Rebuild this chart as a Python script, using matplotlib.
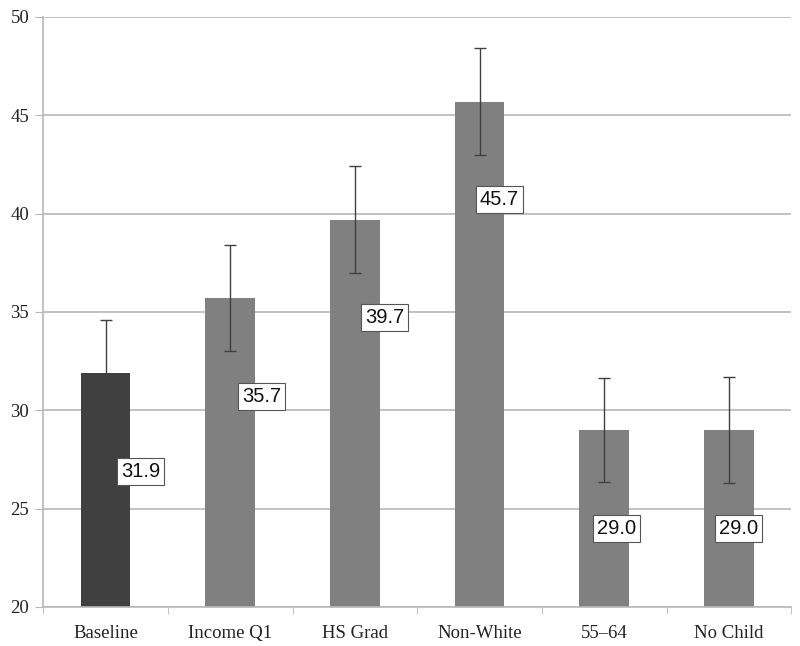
import matplotlib.pyplot as plt
import numpy as np

categories = ["Baseline", "Income Q1", "HS Grad", "Non-White", "55\u201364", "No Child"]
values = [31.9, 35.7, 39.7, 45.7, 29.0, 29.0]
errors = [2.7, 2.7, 2.7, 2.7, 2.65, 2.7]
bar_colors = ["#404040", "#808080", "#808080", "#808080", "#808080", "#808080"]

# where the value boxes sit relative to each bar
label_dx = [0.28, 0.25, 0.24, 0.16, 0.10, 0.08]
label_dy = -5.0

fig = plt.figure(figsize=(8, 6.46), dpi=100)
ax = fig.add_axes([0.054, 0.0604, 0.935, 0.9133])

x = np.arange(len(categories))
ax.set_axisbelow(True)
ax.yaxis.grid(True, color="#b8b8b8", linewidth=1.2)
ax.bar(x, values, width=0.4, color=bar_colors, zorder=2)
ax.errorbar(x, values, yerr=errors, fmt="none", ecolor="#404040",
            elinewidth=1, capsize=4, capthick=1, zorder=3)

for i, v in enumerate(values):
    ax.text(x[i] + label_dx[i], v + label_dy, f"{v:.1f}", ha="center", va="center",
            fontsize=14.5, family="Liberation Sans", color="#111111", zorder=4,
            bbox=dict(boxstyle="square,pad=0.2", fc="white", ec="#555555", lw=0.8))

ax.set_xlim(-0.5, len(categories) - 0.5)
ax.set_ylim(20, 50)
ax.set_yticks([20, 25, 30, 35, 40, 45, 50])
ax.set_xticks(x)
ax.set_xticklabels(categories)
ax.set_xticks(np.arange(len(categories) + 1) - 0.5, minor=True)
ax.tick_params(axis="x", which="major", length=0, pad=13)
ax.tick_params(axis="x", which="minor", length=5, color="#b8b8b8")
ax.tick_params(axis="y", length=6, color="#b8b8b8", pad=4)
for lab in ax.get_xticklabels() + ax.get_yticklabels():
    lab.set_family("Liberation Serif")
    lab.set_fontsize(13.5)
    lab.set_color("#222222")

for s in ["top", "right"]:
    ax.spines[s].set_visible(False)
ax.spines["left"].set_color("#b8b8b8")
ax.spines["bottom"].set_color("#b8b8b8")
ax.spines["left"].set_linewidth(1.2)
ax.spines["bottom"].set_linewidth(1.2)

plt.savefig("out.png")
